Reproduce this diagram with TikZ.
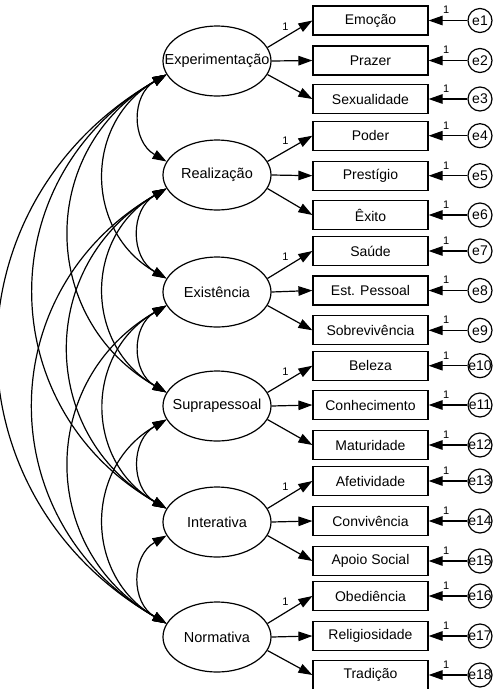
\documentclass[tikz,border=0pt]{standalone}
\usepackage{fontspec}
\setmainfont{Liberation Sans}
\usetikzlibrary{shapes.geometric,arrows.meta}
\tikzset{
  lat/.style={draw, ellipse, line width=1.2pt, minimum width=108pt, minimum height=70pt, inner sep=0pt, font=\fontsize{14.5}{16}\selectfont},
  obs/.style={draw, rectangle, line width=1.2pt, minimum width=115pt, minimum height=29pt, inner sep=0pt, font=\fontsize{14}{16}\selectfont},
  err/.style={draw, circle, line width=1.2pt, minimum size=24pt, inner sep=0pt, font=\fontsize{14}{15}\selectfont},
  tip/.tip={Triangle[length=14pt,width=9.5pt]},
  load/.style={-tip, line width=1.2pt},
  cov/.style={tip-tip, line width=1.2pt},
  one/.style={font=\fontsize{11}{12}\selectfont, inner sep=0pt}
}
\begin{document}
\begin{tikzpicture}[x=1pt,y=-1pt]
\useasboundingbox (0,0) rectangle (499,689);
% latent variables
\node[lat] (L1) at (217,61) {\makebox[0pt]{Experimentação}};
\node[lat] (L2) at (217,175) {\makebox[0pt]{Realização}};
\node[lat] (L3) at (217,292) {\makebox[0pt]{Existência}};
\node[lat] (L4) at (217,406) {\makebox[0pt]{Suprapessoal}};
\node[lat] (L5) at (217,522) {\makebox[0pt]{Interativa}};
\node[lat] (L6) at (217,637) {\makebox[0pt]{Normativa}};
% observed variables and errors
\foreach \i/\y/\t in {1/20.5/Emoção,2/60.5/Prazer,3/99/Sexualidade,
  4/135.7/Poder,5/175.7/Prestígio,6/215/Êxito,
  7/251/Saúde,8/290.5/Est. Pessoal,9/330.3/Sobrevivência,
  10/365.7/Beleza,11/405/Conhecimento,12/445/Maturidade,
  13/481/Afetividade,14/521/Convivência,15/561/Apoio Social,
  16/596/Obediência,17/636/Religiosidade,18/675/Tradição}{
  \node[obs] (O\i) at (370.5,\y) {\t};
  \node[err] (E\i) at (480,\y) {\makebox[0pt]{e\i}};
  \draw[load] (E\i) -- node[one, pos=0.55, above=6pt] {1} (O\i);
}
% loadings
\foreach \l/\a/\b/\c in {1/1/2/3,2/4/5/6,3/7/8/9,4/10/11/12,5/13/14/15,6/16/17/18}{
  \draw[load] (L\l.15) -- node[one, pos=0.4, above=6pt] {1} (O\a.west);
  \draw[load] (L\l.0) -- (O\b.west);
  \draw[load] (L\l.-15) -- (O\c.west);
}
% covariances
\foreach \i/\j in {1/2,1/3,1/4,1/5,1/6,2/3,2/4,2/5,2/6,3/4,3/5,3/6,4/5,4/6,5/6}{
  \draw[cov] (L\i.195) to[bend right=60, looseness=1.2] (L\j.165);
}
\end{tikzpicture}
\end{document}
